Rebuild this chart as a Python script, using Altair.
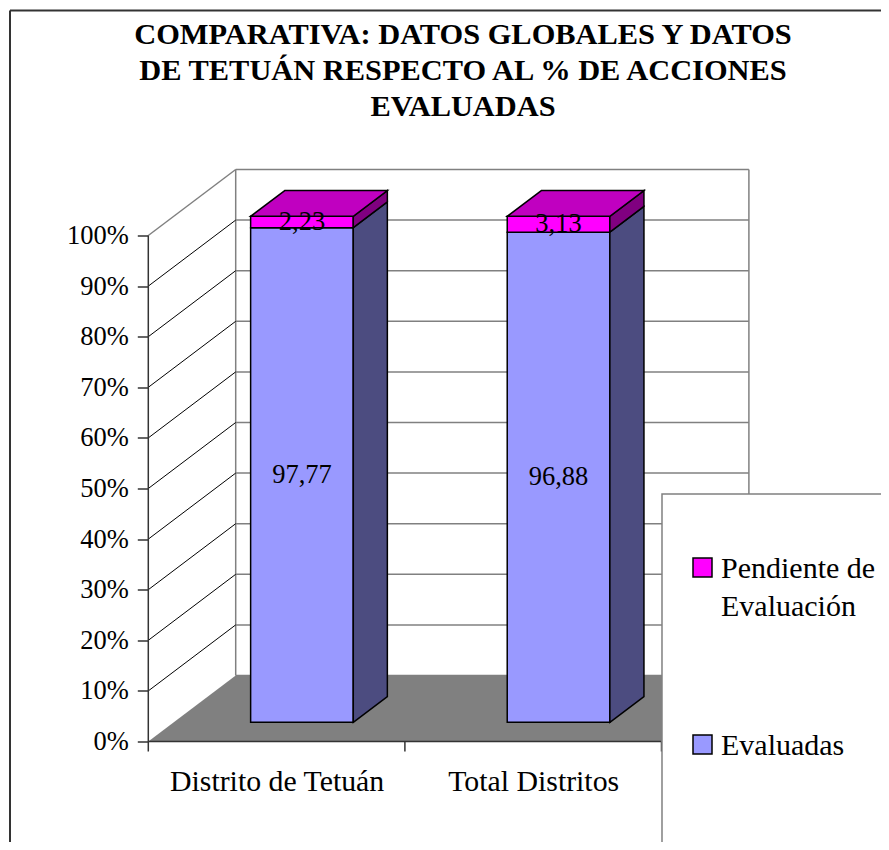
import altair as alt
import pandas as pd

# ---------------- data ----------------
categories = ["Distrito de Tetuán", "Total Distritos"]
series = ["Evaluadas", "Pendiente de Evaluación"]
evaluadas = [97.77, 96.88]
pendiente = [2.23, 3.13]
y_ticks = [0, 10, 20, 30, 40, 50, 60, 70, 80, 90, 100]
title_lines = ["COMPARATIVA: DATOS GLOBALES Y DATOS",
               "DE TETUÁN RESPECTO AL % DE ACCIONES",
               "EVALUADAS"]
legend_order = ["Pendiente de Evaluación", "Evaluadas"]
legend_text = ["Pendiente de\nEvaluación", "Evaluadas"]

# ---------------- style ----------------
front_colors = {"Evaluadas": "#9999FF", "Pendiente de Evaluación": "#FF00FF"}
side_colors = {"Evaluadas": "#4C4C80", "Pendiente de Evaluación": "#800080"}
top_colors = {"Evaluadas": "#7A7ACC", "Pendiente de Evaluación": "#C000C0"}
FONT = "'Liberation Serif', 'Times New Roman', 'DejaVu Serif', serif"

PX_X = 256.6          # px per category unit
PX_Y = 5.06           # px per percent
DX = 87.4 / PX_X      # depth offset (x units)
DY = 66.0 / PX_Y      # depth offset (percent units)
BAR_W = 0.4
D0, D1 = 0.29, 0.68
N = len(categories)
XMAX = N + DX
YMAX = 100 + DY
W = XMAX * PX_X
H = YMAX * PX_Y
LEFT, BOTTOM = 148.3, 741.5
TOP = BOTTOM - H
PAD = {"left": LEFT - 8, "top": TOP - 8,
       "right": 873 - (LEFT - 8) - W, "bottom": 834 - (TOP - 8) - H}

xs = alt.Scale(domain=[0, XMAX], nice=False, zero=False)
ys = alt.Scale(domain=[0, YMAX], nice=False, zero=False)
cat_expr = "[" + ",".join("'%s'" % c for c in categories) + "][floor(datum.value)]"
xaxis = alt.Axis(values=[i + 0.5 for i in range(N)], labelExpr=cat_expr, ticks=False,
                 domain=False, grid=False, labelFont=FONT, labelFontSize=29.8,
                 labelColor="black", labelPadding=25, labelFlush=False, labelLimit=500,
                 title=None)
yaxis = alt.Axis(values=y_ticks, labelExpr="datum.value + '%'", domain=False, grid=False,
                 tickSize=11, tickColor="#333333", tickWidth=1.5, labelFont=FONT,
                 labelFontSize=26.5, labelColor="black", labelPadding=9, title=None)


def X(f):
    return alt.X(f, type="quantitative", scale=xs, axis=xaxis)


def Y(f):
    return alt.Y(f, type="quantitative", scale=ys, axis=yaxis)


color_scale = alt.Scale(domain=legend_order, range=[front_colors[s] for s in legend_order])

# ---- walls & floor ----
back_grid = pd.DataFrame({"p": y_ticks})
back_grid["x"] = DX
back_grid["x2"] = N + DX
back_grid["y"] = back_grid["p"] + DY
g_back = alt.Chart(back_grid).mark_rule(color="#808080", strokeWidth=1.5).encode(
    x=X("x"), x2="x2", y=Y("y"))

back_edges = pd.DataFrame({"x": [DX, N + DX], "y": [y_ticks[0] + DY] * 2,
                           "y2": [y_ticks[-1] + DY] * 2})
g_edges = alt.Chart(back_edges).mark_rule(color="#808080", strokeWidth=1.5).encode(
    x=X("x"), y=Y("y"), y2="y2")

diag = pd.DataFrame({"p": y_ticks[1:]})
diag["x"] = 0.0
diag["x2"] = DX
diag["y"] = diag["p"]
diag["y2"] = diag["p"] + DY
diag["col"] = ["#808080" if p == y_ticks[-1] else "black" for p in diag["p"]]
diag["w"] = [1.5 if p == y_ticks[-1] else 1.0 for p in diag["p"]]
g_diag = alt.Chart(diag).mark_rule().encode(
    x=X("x"), x2="x2", y=Y("y"), y2="y2",
    color=alt.Color("col:N", scale=None), strokeWidth=alt.StrokeWidth("w:Q", scale=None))

floor = pd.DataFrame({"y": [0, DY], "xa": [0, DX], "xb": [N, N + DX]})
g_floor = alt.Chart(floor).mark_area(orient="horizontal", color="#808080").encode(
    y=Y("y"), x=X("xa"), x2="xb")

front_axis = pd.DataFrame({"x": [0.0], "y": [y_ticks[0]], "y2": [y_ticks[-1]]})
g_faxis = alt.Chart(front_axis).mark_rule(color="#333333", strokeWidth=1.5).encode(
    x=X("x"), y=Y("y"), y2="y2")

base = pd.DataFrame({"x": [0.0], "x2": [float(N)], "y": [0.0]})
g_base = alt.Chart(base).mark_rule(color="#333333", strokeWidth=1.5).encode(
    x=X("x"), x2="x2", y=Y("y"))

xt = pd.DataFrame({"t": list(range(N + 1))})
g_xt = alt.Chart(xt).mark_rule(color="#333333", strokeWidth=1.5).encode(
    x=X("t"), y=alt.value(H), y2=alt.value(H + 10))

# ---- bars ----
front_rows, side_rows, top_rows, lab_rows = [], [], [], []
ddx = (D1 - D0) * DX
ddy = (D1 - D0) * DY
for i, cat in enumerate(categories):
    vals = {"Evaluadas": evaluadas[i], "Pendiente de Evaluación": pendiente[i]}
    total = sum(vals.values())
    lo = 0.0
    xl = i + 0.5 - BAR_W / 2 + D0 * DX
    xr = xl + BAR_W
    for j, s in enumerate(series):
        hi = lo + vals[s] / total * 100
        key = "%d-%s" % (i, s)
        front_rows.append({"x": xl, "x2": xr, "y": lo + D0 * DY, "y2": hi + D0 * DY, "serie": s})
        side_rows.append({"x": xr, "ylo": lo + D0 * DY, "yhi": hi + D0 * DY,
                          "fill": side_colors[s], "key": key})
        side_rows.append({"x": xr + ddx, "ylo": lo + D1 * DY, "yhi": hi + D1 * DY,
                          "fill": side_colors[s], "key": key})
        if j == len(series) - 1:
            top_rows.append({"y": hi + D0 * DY, "xa": xl, "xb": xr,
                             "fill": top_colors[s], "key": key})
            top_rows.append({"y": hi + D1 * DY, "xa": xl + ddx, "xb": xr + ddx,
                             "fill": top_colors[s], "key": key})
        lab_rows.append({"x": (xl + xr) / 2, "y": (lo + hi) / 2 + D0 * DY,
                         "lab": ("%.2f" % vals[s]).replace(".", ",")})
        lo = hi

g_front = alt.Chart(pd.DataFrame(front_rows)).mark_rect(stroke="black", strokeWidth=1.5).encode(
    x=X("x"), x2="x2", y=Y("y"), y2="y2",
    color=alt.Color("serie:N", scale=color_scale, legend=None))
g_side = alt.Chart(pd.DataFrame(side_rows)).mark_area(
    orient="vertical", stroke="black", strokeWidth=1.5).encode(
    x=X("x"), y=Y("ylo"), y2="yhi", fill=alt.Fill("fill:N", scale=None), detail="key:N")
g_top = alt.Chart(pd.DataFrame(top_rows)).mark_area(
    orient="horizontal", stroke="black", strokeWidth=1.5).encode(
    y=Y("y"), x=X("xa"), x2="xb", fill=alt.Fill("fill:N", scale=None), detail="key:N")
g_lab = alt.Chart(pd.DataFrame(lab_rows)).mark_text(
    font=FONT, fontSize=26.5, color="black", align="center", baseline="middle").encode(
    x=X("x"), y=Y("y"), text="lab:N")

main = alt.layer(g_back, g_edges, g_diag, g_floor, g_faxis, g_base, g_xt,
                 g_front, g_side, g_top, g_lab)

# ---- legend ----
one = pd.DataFrame({"k": [0]})
g_box = alt.Chart(one).mark_rect(fill="white", stroke="#808080", strokeWidth=1.5).encode(
    x=alt.value(662 - LEFT), x2=alt.value(W + 400), y=alt.value(494 - TOP), y2=alt.value(H + 400))
leg = pd.DataFrame({"serie": legend_order, "lrow": list(range(len(legend_order))),
                    "txt": legend_text})
ly = alt.Y("lrow:Q", scale=alt.Scale(domain=[0, 1], range=[567.5 - TOP, 744.5 - TOP]), axis=None)
g_sq = alt.Chart(leg).mark_square(size=361, stroke="black", strokeWidth=1.5, opacity=1).encode(
    x=alt.value(702.5 - LEFT), y=ly, color=alt.Color("serie:N", scale=color_scale, legend=None))
g_lt = alt.Chart(leg).mark_text(align="left", baseline="alphabetic", dy=10, font=FONT,
                                fontSize=30, lineBreak="\n", lineHeight=38,
                                color="black").encode(
    x=alt.value(721 - LEFT), y=ly, text="txt:N")
legend = alt.layer(g_box, g_sq, g_lt)

# ---- title & frame ----
tdf = pd.DataFrame({"t": ["\n".join(title_lines)]})
g_title = alt.Chart(tdf).mark_text(align="center", baseline="alphabetic", font=FONT,
                                   fontWeight="bold", fontSize=30.4, lineBreak="\n",
                                   lineHeight=36, color="black").encode(
    x=alt.value(463 - LEFT), y=alt.value(44.3 - TOP), text="t:N")
g_fl = alt.Chart(one).mark_rule(color="#333333", strokeWidth=2).encode(
    x=alt.value(10 - LEFT), y=alt.value(10.5 - TOP), y2=alt.value(H + 400))
g_ft = alt.Chart(one).mark_rule(color="#333333", strokeWidth=2).encode(
    x=alt.value(10 - LEFT), x2=alt.value(W + 400), y=alt.value(10.5 - TOP))

chart = alt.layer(main, legend, g_title, g_fl, g_ft).resolve_scale(y="independent").properties(
    width=W, height=H, autosize=alt.AutoSizeParams(type="none"), padding=PAD
).configure_view(stroke=None)

chart.save("out.html", embed_options={"renderer": "svg", "actions": False})
